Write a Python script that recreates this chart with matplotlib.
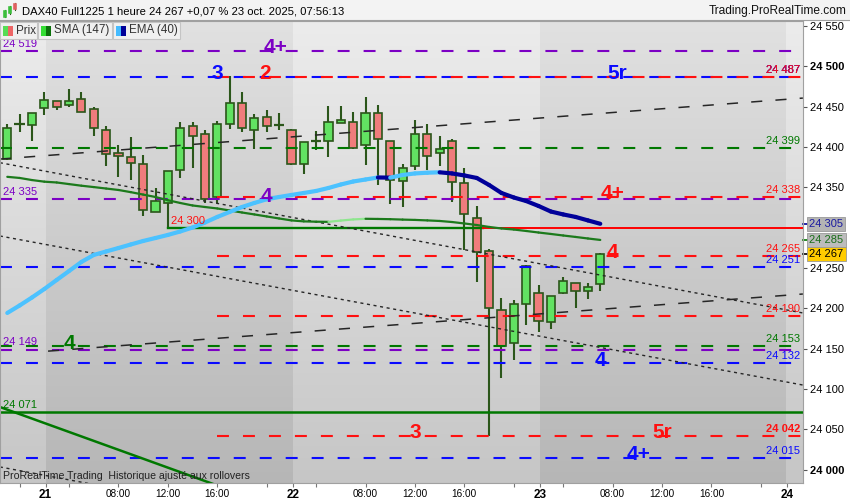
import numpy as np
import matplotlib
matplotlib.use('Agg')
import matplotlib.pyplot as plt
import matplotlib.transforms as mtrans
from matplotlib.patches import Rectangle
from matplotlib.collections import LineCollection
from matplotlib.lines import Line2D

plt.rcParams['font.family'] = ['Liberation Sans', 'DejaVu Sans']
plt.rcParams['lines.scale_dashes'] = False

# DAX40 hourly bars, bar 0 = 20 oct 19:00 ... bar 48 = 23 oct 07:00
opens  = [24385, 24429, 24427, 24448, 24457, 24452, 24459, 24447, 24421, 24393,
          24387, 24379, 24320, 24331, 24371, 24426, 24416, 24338, 24429, 24454,
          24421, 24437, 24427, 24421, 24379, 24408, 24408, 24430, 24431, 24402,
          24442, 24408, 24358, 24376, 24416, 24393, 24407, 24355, 24312, 24271,
          24198, 24157, 24205, 24219, 24183, 24219, 24232, 24222, 24230]
highs  = [24428, 24441, 24442, 24468, 24457, 24472, 24468, 24449, 24426, 24402,
          24412, 24390, 24349, 24370, 24431, 24431, 24421, 24432, 24488, 24468,
          24441, 24446, 24442, 24422, 24406, 24420, 24451, 24451, 24443, 24462,
          24452, 24408, 24379, 24434, 24429, 24414, 24410, 24374, 24327, 24274,
          24213, 24210, 24254, 24229, 24215, 24239, 24232, 24231, 24269]
lows   = [24384, 24419, 24408, 24439, 24446, 24450, 24443, 24414, 24377, 24363,
          24359, 24315, 24320, 24300, 24362, 24374, 24330, 24330, 24422, 24418,
          24398, 24419, 24421, 24378, 24366, 24396, 24388, 24430, 24398, 24378,
          24353, 24329, 24325, 24372, 24372, 24376, 24332, 24272, 24233, 24042,
          24114, 24136, 24179, 24171, 24174, 24218, 24200, 24211, 24222]
closes = [24424, 24429, 24442, 24458, 24449, 24457, 24443, 24423, 24391, 24389,
          24380, 24322, 24333, 24370, 24424, 24414, 24336, 24428, 24454, 24423,
          24436, 24426, 24427, 24379, 24406, 24408, 24431, 24433, 24399, 24442,
          24410, 24359, 24374, 24416, 24389, 24398, 24356, 24317, 24270, 24200,
          24153, 24205, 24252, 24184, 24215, 24234, 24221, 24226, 24267]

sma147 = [24363.0, 24361.6, 24359.0, 24357.0, 24356.0, 24354.0, 24352.0, 24350.3, 24348.5, 24346.7,
          24344.0, 24341.0, 24338.0, 24334.0, 24330.6, 24327.5, 24325.6, 24323.8, 24321.3, 24318.8,
          24316.4, 24313.9, 24311.4, 24309.0, 24307.8, 24307.4, 24307.2, 24308.8, 24310.2, 24311.0,
          24310.8, 24310.5, 24310.0, 24309.6, 24309.0, 24308.3, 24307.0, 24305.2, 24303.3, 24300.9,
          24299.0, 24297.7, 24295.9, 24294.0, 24292.2, 24290.3, 24288.5, 24286.6, 24284.8]
ema40  = [24194.3, 24203.6, 24213.5, 24224.0, 24235.2, 24246.3, 24257.5, 24266.2, 24270.5, 24274.8,
          24279.2, 24283.5, 24287.2, 24291.0, 24295.3, 24300.2, 24306.4, 24313.3, 24319.5, 24325.6,
          24330.6, 24335.2, 24338.0, 24340.5, 24343.0, 24345.5, 24349.2, 24353.5, 24357.2, 24359.7,
          24362.2, 24362.0, 24365.3, 24367.2, 24368.1, 24368.6, 24367.2, 24364.7, 24361.6, 24352.9,
          24343.0, 24337.4, 24333.0, 24326.9, 24320.0, 24316.4, 24313.3, 24309.0, 24304.8]

# x axis: first bar of each session (02:00)
day_names  = ['21', '22', '23', '24']
day_starts = [3, 23, 43, 63]
hour_names = ['04:00', '08:00', '12:00', '16:00', '20:00']
hour_shown = [False, True, True, True, False]

# horizontal levels
purple_levels = [24519, 24335, 24149]
blue_levels   = [24487, 24251, 24132, 24015]
green_levels  = [24399, 24153]
red_levels    = [24487, 24338, 24265, 24190, 24042]
red_start_bar = 17
support_level = 24300
support_bar   = 13
support_switch = 38.5
low_level     = 24071

# drawn trend lines: (bar, price) pairs
rising_lines  = [((-0.6, 24385), (64.4, 24460.6)),
                 ((3.3, 24147), (64.4, 24217.8))]
falling_lines = [((-0.6, 24380.5), (64.4, 24194.3)),
                 ((-0.6, 24289.7), (64.4, 24105.0)),
                 ((-0.6, 24003.5), (10, 23973.2))]
green_diag    = ((-0.6, 24077.8), (18, 23975))

# big markers: text, bar, level
PURPLE, BLUE, RED, GREEN = '#7c00c4', '#0a0aff', '#ff1010', '#007800'
big_marks = [('4+', 21.7, 24519, PURPLE), ('3', 17.0, 24487, BLUE), ('2', 20.9, 24487, RED),
             ('5r', 49.35, 24487, BLUE), ('4', 21.0, 24335, PURPLE), ('4+', 49.0, 24338, RED),
             ('4', 48.95, 24265, RED), ('4', 48.0, 24132, BLUE), ('4', 5.0, 24153, GREEN),
             ('3', 33.0, 24042, RED), ('5r', 53.0, 24042, RED), ('4+', 51.1, 24015, BLUE)]


def fmt(v):
    v = int(round(v))
    return '%d %03d' % (v // 1000, v % 1000)


W, H = 850, 500
def fx(px): return px / W
def fy(py): return 1 - py / H

fig = plt.figure(figsize=(8.5, 5), dpi=100)
fig.patch.set_facecolor('white')
ax = fig.add_axes([0, fy(483), fx(803), (483 - 21) / H])
x0, x1 = -0.59, 64.41
y0, y1 = 23983.6, 24556.1
ax.set_xlim(x0, x1)
ax.set_ylim(y0, y1)

# background gradient with alternating days
rows, cols = 462, 803
t = np.linspace(0, 1, rows)[:, None]
light = 236 - 38 * t
dark = 225 - 43 * t
xs = np.linspace(x0, x1, cols)[None, :]
ds = [d + 0.1 for d in day_starts]
is_dark = ((xs >= ds[0]) & (xs < ds[1])) | ((xs >= ds[2]) & (xs < ds[3]))
gray = np.where(is_dark, dark, light) / 255
ax.imshow(np.dstack([gray] * 3), extent=(x0, x1, y0, y1), aspect='auto',
          origin='upper', zorder=0, interpolation='bilinear')

# candles
EDGE = '#2b561a'
for i in range(len(opens)):
    o, h, l, c = opens[i], highs[i], lows[i], closes[i]
    ax.vlines(i, l, h, color=EDGE, lw=1.5, zorder=1)
    if abs(c - o) < 1.5:
        ax.hlines(o, i - 0.42, i + 0.42, color=EDGE, lw=1.6, zorder=1.2)
    else:
        fc = '#62e262' if c > o else '#f07c7c'
        ax.add_patch(Rectangle((i - 0.33, min(o, c)), 0.66, abs(c - o),
                               fc=fc, ec=EDGE, lw=1.2, zorder=1.1))

# dashed levels
dash = (8.6, 10.1)
lvl_end = 63.5
for p in purple_levels:
    ax.plot([x0, lvl_end], [p, p], color=PURPLE, lw=1.5, dashes=dash, zorder=2)
for p in green_levels:
    ax.plot([x0, lvl_end], [p, p], color=GREEN, lw=1.5, dashes=dash, zorder=2)
for p in blue_levels:
    ax.plot([x0, lvl_end], [p, p], color=BLUE, lw=1.5, dashes=dash, zorder=2)
for p in red_levels:
    ax.plot([red_start_bar - 0.05, x1], [p, p], color=RED, lw=1.5, dashes=dash, zorder=2.1)

# solid levels
ax.plot([x0, x1], [low_level] * 2, color=GREEN, lw=1.8, zorder=2)
ax.plot([support_bar, support_switch], [support_level] * 2, color=GREEN, lw=1.7, zorder=2)
ax.plot([support_switch, x1], [support_level] * 2, color='#ff0000', lw=1.4, zorder=2)
ax.plot([green_diag[0][0], green_diag[1][0]], [green_diag[0][1], green_diag[1][1]],
        color=GREEN, lw=1.8, zorder=2)

# trend lines
for a, b in rising_lines:
    ax.plot([a[0], b[0]], [a[1], b[1]], color='#262626', lw=1.1, dashes=(8, 9.5), zorder=2.2)
for a, b in falling_lines:
    ax.plot([a[0], b[0]], [a[1], b[1]], color='#262626', lw=1.0, dashes=(2.2, 2.6), zorder=2.2)

# moving averages, colour by direction
bars = np.arange(len(ema40))
def trend_line(vals, up, dn, lw, z):
    pts = np.column_stack([bars, vals])
    segs = np.stack([pts[:-1], pts[1:]], axis=1)
    colors = [up if b > a else dn for a, b in zip(vals[:-1], vals[1:])]
    ax.add_collection(LineCollection(segs, colors=colors, linewidths=lw,
                                     capstyle='round', zorder=z))
trend_line(sma147, '#8ee68e', '#1c7a1c', 1.6, 3)
trend_line(ema40, '#4cc2ff', '#000099', 3.0, 3.1)

# level labels
for p in blue_levels + green_levels + red_levels:
    col = BLUE if p in blue_levels and p not in red_levels else (GREEN if p in green_levels else RED)
    if p in red_levels and p in blue_levels:
        ax.annotate(fmt(p), (64.17, p), xytext=(0, 1.5), textcoords='offset points',
                    ha='right', va='bottom', fontsize=8, color=BLUE, zorder=4)
    ax.annotate(fmt(p), (64.17, p), xytext=(0, 1.5), textcoords='offset points',
                ha='right', va='bottom', fontsize=8, color=col, zorder=4,
                fontweight='bold' if p == min(red_levels) else 'normal')
for p in purple_levels:
    ax.annotate(fmt(p), (x0, p), xytext=(2, 1.5), textcoords='offset points',
                ha='left', va='bottom', fontsize=8, color=PURPLE, zorder=4)
ax.annotate(fmt(low_level), (x0, low_level), xytext=(2, 1.5), textcoords='offset points',
            ha='left', va='bottom', fontsize=8, color=GREEN, zorder=4)
ax.annotate(fmt(support_level), (support_bar, support_level), xytext=(2, 1.5),
            textcoords='offset points', ha='left', va='bottom', fontsize=8,
            color=RED, zorder=4)

for txt, b, p, col in big_marks:
    ax.text(b, p + 4, txt, color=col, fontsize=15, fontweight='bold',
            ha='center', va='center', zorder=5)

# axes styling
for s in ax.spines.values():
    s.set_color('#a0a0a0')
    s.set_linewidth(0.8)

yt = [v for v in range(24000, 24551, 50) if v != 24300]
ax.yaxis.tick_right()
ax.set_yticks(yt)
ax.set_yticklabels([fmt(v) for v in yt])
ax.tick_params(axis='y', direction='out', length=3, pad=2, labelsize=8, color='#555555')
for lab, v in zip(ax.get_yticklabels(), yt):
    if v % 500 == 0:
        lab.set_fontweight('bold')

xt, xl, xb = [1], [''], [False]
for name, s in zip(day_names, day_starts):
    xt.append(s + 0.1); xl.append(name); xb.append(True)
    if s + 18 < x1:
        for k, (hn, show) in enumerate(zip(hour_names, hour_shown)):
            xt.append(s + 2 + 4 * k); xl.append(hn if show else ''); xb.append(False)
ax.set_xticks(xt)
ax.set_xticklabels(xl)
ax.tick_params(axis='x', direction='out', length=3, pad=1.5, labelsize=7.2, color='#777777')
for lab, bold in zip(ax.get_xticklabels(), xb):
    if bold:
        lab.set_fontweight('bold')
        lab.set_fontsize(8.5)

# last values on the price axis
blend = mtrans.blended_transform_factory(ax.transAxes, ax.transData)
for val, tcol, fcol, tick in [(ema40[-1], '#1a1aa0', '#b4b4b4', '#000099'),
                              (sma147[-1], '#1a6e1a', '#bcbcbc', GREEN),
                              (closes[-1], '#000000', '#ffcc00', '#000000')]:
    ax.text(1.008, val, fmt(val), transform=blend, fontsize=8, color=tcol,
            ha='left', va='center', clip_on=False, zorder=6,
            bbox=dict(boxstyle='square,pad=0.18', fc=fcol, ec='#999999', lw=0.6))
    ax.plot([1.0, 1.007], [val, val], transform=blend, color=tick, lw=1.2, clip_on=False)

# header
fig.add_artist(Rectangle((0, fy(20)), 1, 20 / H, transform=fig.transFigure,
                         fc='#f3f3f3', ec='none', zorder=0))
fig.add_artist(Line2D([0, 1], [fy(20), fy(20)], transform=fig.transFigure,
                      color='#a0a0a0', lw=0.8))
for cx, lo, hi, b0, b1, col in [(5, 17, 10, 16, 12, '#3cbf3c'), (10, 14, 6, 12, 8, '#3cbf3c'),
                                (15, 10, 3, 8, 5, '#e06060')]:
    fig.add_artist(Line2D([fx(cx)] * 2, [fy(lo), fy(hi)], transform=fig.transFigure,
                          color='#2b561a', lw=0.8))
    fig.add_artist(Line2D([fx(cx)] * 2, [fy(b0), fy(b1)], transform=fig.transFigure,
                          color=col, lw=2.6))
fig.text(fx(22), fy(11), 'DAX40 Full1225 1 heure 24 267 +0,07 % 23 oct. 2025, 07:56:13',
         fontsize=8.1, va='center', ha='left', color='#000000')
fig.text(fx(847), fy(11), 'Trading.ProRealTime.com', fontsize=8.6, va='center',
         ha='right', color='#111111')

# legend boxes
for bx0, bx1, label, c1, c2 in [(0, 37, 'Prix', '#55dd55', '#ee6666'),
                                (38, 112, 'SMA (147)', '#33dd33', '#0a700a'),
                                (113, 180, 'EMA (40)', '#44bbff', '#000099')]:
    fig.add_artist(Rectangle((fx(bx0), fy(39)), fx(bx1 - bx0), 17 / H, transform=fig.transFigure,
                             fc='#f0f0f0', ec='#c4c4c4', lw=0.8, zorder=5))
    fig.add_artist(Rectangle((fx(bx0 + 3), fy(36)), fx(5), 10 / H, transform=fig.transFigure,
                             fc=c1, ec='none', zorder=6))
    fig.add_artist(Rectangle((fx(bx0 + 8), fy(36)), fx(5), 10 / H, transform=fig.transFigure,
                             fc=c2, ec='none', zorder=6))
    fig.text(fx(bx0 + 16), fy(30.5), label, fontsize=8.4, va='center', ha='left',
             color='#333333', zorder=7)

fig.text(fx(3), fy(476), 'ProRealTime Trading  Historique ajusté aux rollovers',
         fontsize=7.6, va='center', ha='left', color='#222222', zorder=7)

fig.savefig('out.png', dpi=100)
